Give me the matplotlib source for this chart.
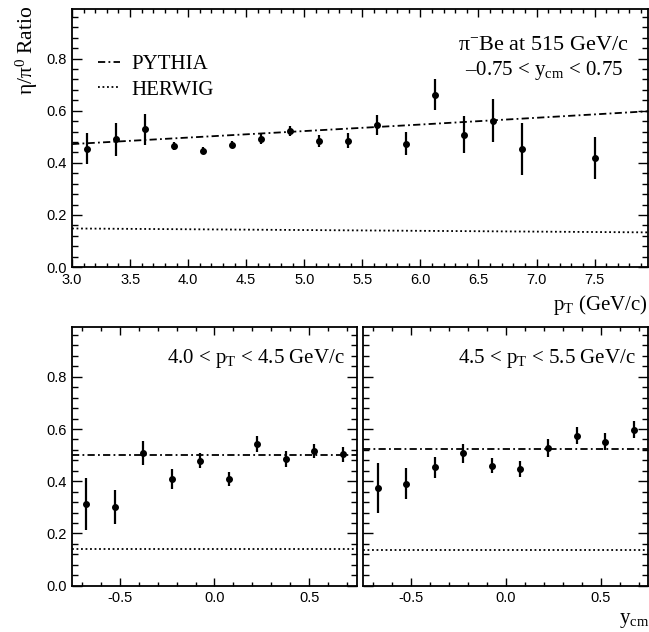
import numpy as np
import matplotlib
matplotlib.use("Agg")
import matplotlib.pyplot as plt
from matplotlib.ticker import MultipleLocator, FormatStrFormatter

plt.rcParams['mathtext.fontset'] = 'custom'
plt.rcParams['mathtext.rm'] = 'Liberation Serif'
plt.rcParams['mathtext.it'] = 'Liberation Serif:italic'
plt.rcParams['mathtext.bf'] = 'Liberation Serif:bold'
plt.rcParams['font.family'] = 'Liberation Sans'

SERIF = 'Liberation Serif'

# ---- top panel: ratio vs pT ----
pt = [3.125, 3.375, 3.625, 3.875, 4.125, 4.375, 4.625, 4.875, 5.125,
      5.375, 5.625, 5.875, 6.125, 6.375, 6.625, 6.875, 7.5]
ratio_pt = [0.455, 0.490, 0.529, 0.465, 0.447, 0.469, 0.492, 0.522, 0.482,
            0.485, 0.545, 0.474, 0.662, 0.508, 0.562, 0.453, 0.419]
err_pt = [0.061, 0.063, 0.060, 0.016, 0.013, 0.013, 0.018, 0.018, 0.023,
          0.028, 0.040, 0.045, 0.060, 0.071, 0.083, 0.099, 0.082]

pythia_pt_x = [3.0, 4.0, 5.0, 6.0, 7.0, 7.96]
pythia_pt_y = [0.472, 0.497, 0.522, 0.547, 0.573, 0.598]
herwig_pt_x = [3.0, 5.0, 7.96]
herwig_pt_y = [0.148, 0.142, 0.133]

# ---- bottom panels: ratio vs y_cm ----
ycm = [-0.675, -0.525, -0.375, -0.225, -0.075, 0.075, 0.225, 0.375, 0.525, 0.675]

ratio_lo = [0.314, 0.302, 0.508, 0.408, 0.479, 0.408, 0.543, 0.485, 0.515, 0.503]
err_lo = [0.099, 0.065, 0.047, 0.037, 0.030, 0.027, 0.030, 0.030, 0.027, 0.029]
pythia_lo = 0.501
herwig_lo = 0.142

ratio_hi = [0.373, 0.391, 0.453, 0.507, 0.460, 0.448, 0.528, 0.574, 0.552, 0.597]
err_hi = [0.095, 0.060, 0.041, 0.036, 0.030, 0.030, 0.035, 0.033, 0.032, 0.033]
pythia_hi = 0.522
herwig_hi = 0.137

DASHDOT = (0, (4, 1.8, 1, 1.8))
DOTTED = (0, (1, 1.5))


def style_axes(ax, xmajor, xminor):
    ax.set_ylim(0, 0.99)
    ax.yaxis.set_major_locator(MultipleLocator(0.2))
    ax.yaxis.set_minor_locator(MultipleLocator(0.04))
    ax.xaxis.set_major_locator(MultipleLocator(xmajor))
    ax.xaxis.set_minor_locator(MultipleLocator(xminor))
    ax.xaxis.set_major_formatter(FormatStrFormatter('%.1f'))
    ax.yaxis.set_major_formatter(FormatStrFormatter('%.1f'))
    ax.tick_params(which='both', direction='in', top=True, right=True,
                   width=1.0, labelsize=10.5, pad=4)
    ax.tick_params(axis='y', which='major', length=7)
    ax.tick_params(axis='y', which='minor', length=4)
    ax.tick_params(axis='x', which='major', length=6)
    ax.tick_params(axis='x', which='minor', length=3)
    for s in ax.spines.values():
        s.set_linewidth(1.3)


def draw_points(ax, x, y, e):
    ax.errorbar(x, y, yerr=e, fmt='o', color='black', ms=4,
                elinewidth=1.6, capsize=0)


fig = plt.figure(figsize=(6.49, 6.32), dpi=100)

ax_top = fig.add_axes([0.111, 0.5775, 0.8875, 0.408])
ax_bl = fig.add_axes([0.111, 0.0733, 0.439, 0.409])
ax_br = fig.add_axes([0.560, 0.0733, 0.4385, 0.409])

# top panel
ax_top.plot(pythia_pt_x, pythia_pt_y, color='black', lw=1.3, ls=DASHDOT, label='PYTHIA')
ax_top.plot(herwig_pt_x, herwig_pt_y, color='black', lw=1.3, ls=DOTTED, label='HERWIG')
draw_points(ax_top, pt, ratio_pt, err_pt)
ax_top.set_xlim(3.0, 7.96)
style_axes(ax_top, 0.5, 0.1)

ax_top.legend(loc='upper left', bbox_to_anchor=(0.045, 0.825),
              frameon=False, borderpad=0, borderaxespad=0,
              handlelength=1.05, handletextpad=0.55, labelspacing=0.3,
              prop={'family': SERIF, 'size': 15})

ax_top.text(0.819, 0.860, '\u03c0$^{-}$Be at 515 GeV/c', transform=ax_top.transAxes,
            ha='center', va='center', family=SERIF, fontsize=16)
ax_top.text(0.819, 0.764, '\u20130.75 < y$_{\\rm cm}$ < 0.75', transform=ax_top.transAxes,
            ha='center', va='center', family=SERIF, fontsize=15)

fig.text(648 / 649, 1 - 305 / 632, 'p$_{\\rm T}$ (GeV/c)', ha='right', va='center',
         family=SERIF, fontsize=15)
fig.text(27 / 649, 1 - 6 / 632, '\u03b7/\u03c0$^{0}$ Ratio', rotation=90,
         ha='center', va='top', family=SERIF, fontsize=15.5)

# bottom panels
for ax, r, e, py, hw, lab in [
        (ax_bl, ratio_lo, err_lo, pythia_lo, herwig_lo, '4.0 < p$_{\\rm T}$ < 4.5 GeV/c'),
        (ax_br, ratio_hi, err_hi, pythia_hi, herwig_hi, '4.5 < p$_{\\rm T}$ < 5.5 GeV/c')]:
    ax.axhline(py, color='black', lw=1.3, ls=DASHDOT)
    ax.axhline(hw, color='black', lw=1.3, ls=DOTTED)
    draw_points(ax, ycm, r, e)
    ax.set_xlim(-0.75, 0.75)
    style_axes(ax, 0.5, 0.1)
    ax.text(0.646, 0.877, lab, transform=ax.transAxes, ha='center', va='center',
            family=SERIF, fontsize=15)

ax_br.tick_params(labelleft=False)

fig.text(649 / 649, 1 - 621 / 632, 'y$_{\\rm cm}$', ha='right', va='center',
         family=SERIF, fontsize=15)

fig.savefig('out.png', dpi=100)
